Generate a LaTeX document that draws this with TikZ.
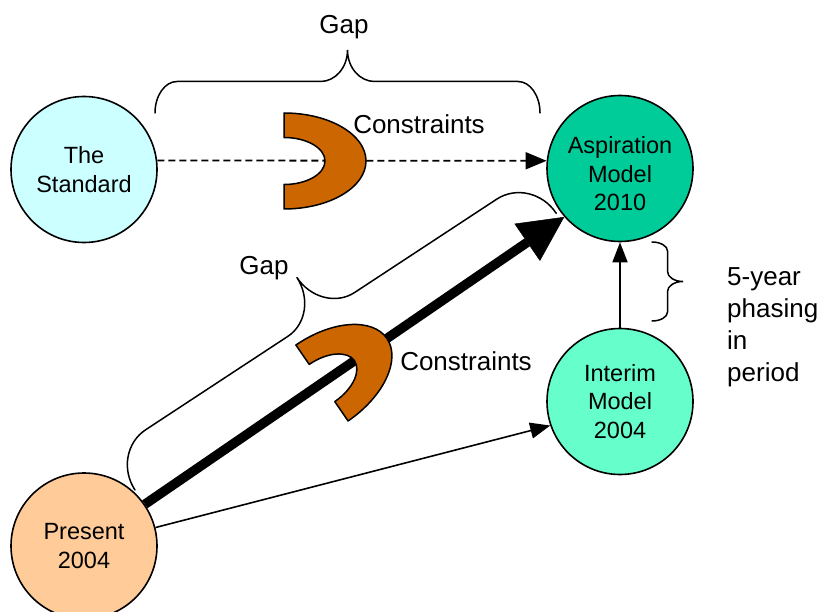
\documentclass[tikz,border=0pt]{standalone}
\usepackage{fontspec}
\setmainfont{Liberation Sans}
\usetikzlibrary{arrows.meta,calc}
\definecolor{stdc}{HTML}{CCFFFF}
\definecolor{aspc}{HTML}{00CC99}
\definecolor{intc}{HTML}{66FFCC}
\definecolor{prec}{HTML}{FFCC99}
\definecolor{shoec}{HTML}{CC6600}
% #1 start, #2 angle, #3 length, #4 amplitude, #5 corner radius, #6 middle radius
\newcommand\bracedraw[6]{%
\draw[bracestyle, shift={#1}, rotate=#2]
 (0,0) .. controls (0,{0.552*#4/2}) and ({0.448*#5},{#4/2}) .. (#5,{#4/2})
 -- ({#3/2-#6},{#4/2}) .. controls ({#3/2-0.448*#6},{#4/2}) and ({#3/2},{#4/2+0.448*#4/2}) .. ({#3/2},#4)
 .. controls ({#3/2},{#4/2+0.448*#4/2}) and ({#3/2+0.448*#6},{#4/2}) .. ({#3/2+#6},{#4/2})
 -- ({#3-#5},{#4/2}) .. controls ({#3-0.448*#5},{#4/2}) and (#3,{0.552*#4/2}) .. (#3,0);}
\begin{document}
\begin{tikzpicture}[x=1pt,y=1pt,
  circ/.style={circle, draw, line width=1.6pt, inner sep=0pt, minimum size=146pt, align=center,
    font=\fontsize{23.5}{28.5}\selectfont},
  ctext/.style={align=center, inner sep=0pt, font=\fontsize{23.5}{28.5}\selectfont},
  lbl/.style={font=\fontsize{26}{32}\selectfont, inner sep=0pt},
  conn/.style={line width=1.6pt},
  bracestyle/.style={line width=1.5pt, line cap=round},
  shoestyle/.style={draw, line width=1.5pt, fill=shoec, line join=round},
  shoe/.pic={\draw[shoestyle] (0,48) arc[start angle=90,end angle=-90,x radius=82,y radius=48]
     -- (0,-23.5) arc[start angle=-90,end angle=90,x radius=41,y radius=23.5] -- cycle;}
]
\fill[white] (0,0) rectangle (821,-612);
\path[use as bounding box] (0,0) rectangle (821,-612);

% circles
\node[circ, fill=stdc] (std) at (84,-169.5) {The\\Standard};
\node[circ, fill=aspc] (asp) at (620,-168.5) {};
\node[ctext] (asptext) at (620,-174) {Aspiration\\Model\\2010};
\node[circ, fill=intc] (int) at (620,-401.5) {Interim\\Model\\2004};
\node[circ, fill=prec] (pre) at (84,-546) {Present\\2004};

% braces
\bracedraw{(155,-113)}{0}{385}{63}{22}{27}
\bracedraw{(135,-490)}{33.3}{504}{89}{42}{40}
\bracedraw{(652,-242)}{-90}{79}{31}{9}{10}

% connectors
\draw[conn, line width=1.8pt, dash pattern=on 7pt off 4pt, -{Triangle[length=21pt,width=17pt]}] (std.7) -- (asp.174);
\draw[line width=9.5pt, -{Triangle[length=45pt,width=45pt,line width=0.5pt]}] (pre) -- (asp.221);
\draw[conn, -{Triangle[length=20pt,width=16pt]}] (pre) -- (int.199);
\draw[conn, -{Triangle[length=20pt,width=15pt]}] (int) -- (asp);

% constraint shapes
\pic at (284,-161) {shoe};
\pic[rotate=34.5, scale=0.96] at (322,-383) {shoe};

% labels
\node[lbl, anchor=base] (gap1) at (344,-33.5) {Gap};
\node[lbl, anchor=base] (con1) at (419,-134) {Constraints};
\node[lbl, anchor=base] (gap2) at (264,-274) {Gap};
\node[lbl, anchor=base] (con2) at (466,-370) {Constraints};
\node[lbl, anchor=base west, align=left] (phase) at (727,-381) {5-year\\phasing\\in\\period};
\end{tikzpicture}
\end{document}
